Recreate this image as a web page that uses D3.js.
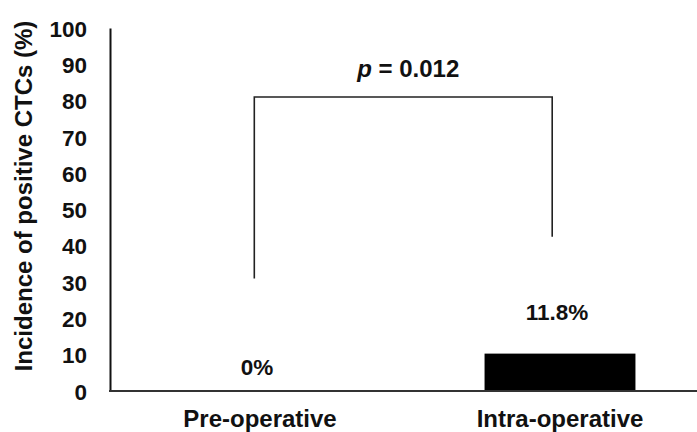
<!DOCTYPE html>
<html>
<head>
<meta charset="utf-8">
<script src="https://cdn.jsdelivr.net/npm/d3@7"></script>
<style>
  html, body { margin: 0; padding: 0; background: #fff; }
  svg { display: block; font-family: "Liberation Sans", Arial, sans-serif; }
</style>
</head>
<body>
<svg id="chart" width="697" height="432"></svg>
<script>
// ---- data ----
const categories = ["Pre-operative", "Intra-operative"];
const values = [0, 10.3];
const valueLabels = ["0%", "11.8%"];
const yTicks = [0, 10, 20, 30, 40, 50, 60, 70, 80, 90, 100];
const yTitle = "Incidence of positive CTCs (%)";
const pText = "0.012";
const bracketTop = 81;
const bracketEnds = [31, 42.5];

// ---- layout ----
const svg = d3.select("#chart");
const mLeft = 110, mRight = 710, mTop = 28, mBottom = 391;

const x = d3.scaleBand().domain(categories).range([mLeft, mRight]).padding(0);
const y = d3.scaleLinear().domain([0, 100]).range([mBottom, mTop]);
const barW = x.bandwidth() * 0.503;
const cx = d => x(d) + x.bandwidth() / 2;

// bars
svg.selectAll("rect.bar").data(categories).enter().append("rect")
  .attr("class", "bar")
  .attr("x", d => cx(d) - barW / 2)
  .attr("y", (d, i) => y(values[i]))
  .attr("width", barW)
  .attr("height", (d, i) => y(0) - y(values[i]))
  .attr("fill", "#000");

// y axis
const yAxis = d3.axisLeft(y).tickValues(yTicks).tickSize(0).tickPadding(23);
const gy = svg.append("g").attr("transform", `translate(${mLeft},0)`).call(yAxis);
gy.select(".domain").attr("stroke", "#111").attr("stroke-width", 2);
gy.selectAll("text").attr("font-size", 22.5).attr("font-weight", "bold")
  .attr("fill", "#111").attr("font-family", "Liberation Sans, Arial, sans-serif")
  .attr("dy", "0.36em");

// x axis line
svg.append("line").attr("x1", mLeft - 1).attr("x2", 697)
  .attr("y1", y(0)).attr("y2", y(0))
  .attr("stroke", "#333").attr("stroke-width", 2);

// category labels
svg.selectAll("text.cat").data(categories).enter().append("text")
  .attr("class", "cat")
  .attr("x", d => cx(d))
  .attr("y", 427)
  .attr("text-anchor", "middle")
  .attr("font-size", 24).attr("font-weight", "bold").attr("fill", "#111")
  .text(d => d);

// value labels
const labelOffsets = [16, 34];
svg.selectAll("text.val").data(categories).enter().append("text")
  .attr("class", "val")
  .attr("x", d => cx(d) - 3)
  .attr("y", (d, i) => y(values[i]) - labelOffsets[i])
  .attr("text-anchor", "middle")
  .attr("font-size", 22.5).attr("font-weight", "bold").attr("fill", "#111")
  .text((d, i) => valueLabels[i]);

// y title
svg.append("text")
  .attr("transform", `translate(32, 196) rotate(-90)`)
  .attr("text-anchor", "middle")
  .attr("font-size", 24).attr("font-weight", "bold").attr("fill", "#111")
  .text(yTitle);

// significance bracket
const bx1 = cx(categories[0]) - 5.7, bx2 = cx(categories[1]) - 7.8;
svg.append("path")
  .attr("d", d3.line()([[bx1, y(bracketEnds[0])], [bx1, y(bracketTop)], [bx2, y(bracketTop)], [bx2, y(bracketEnds[1])]]))
  .attr("fill", "none").attr("stroke", "#222").attr("stroke-width", 1.6);

const pt = svg.append("text")
  .attr("x", (bx1 + bx2) / 2 + 5)
  .attr("y", y(bracketTop) - 20)
  .attr("text-anchor", "middle")
  .attr("font-size", 24).attr("font-weight", "bold").attr("fill", "#111");
pt.append("tspan").attr("font-style", "italic").text("p");
pt.append("tspan").text(" = " + pText);
</script>
</body>
</html>
